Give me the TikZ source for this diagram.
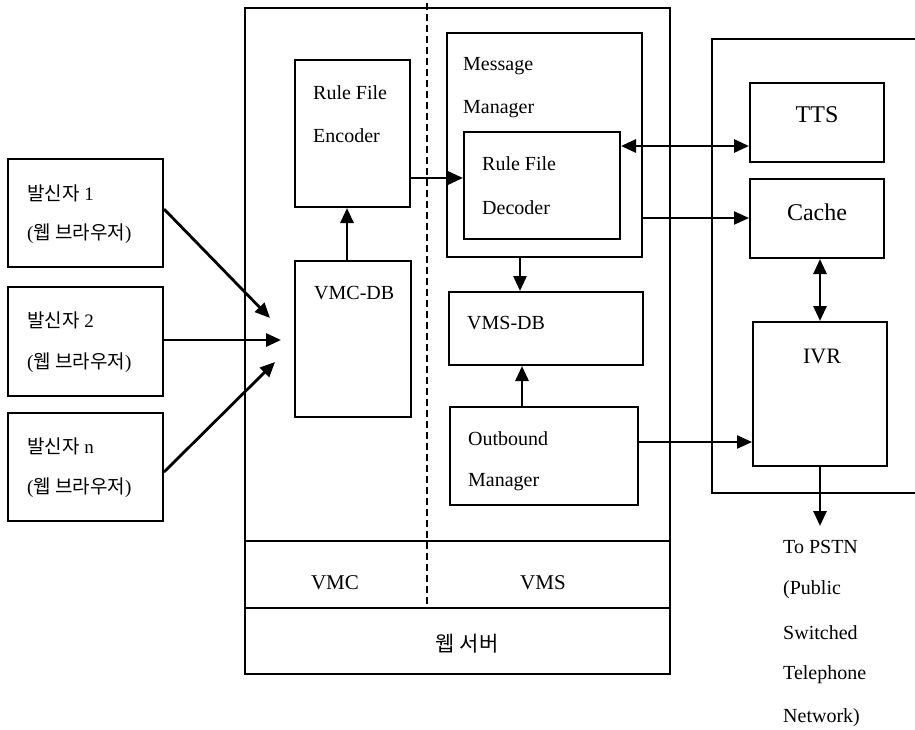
\documentclass[tikz,border=0pt]{standalone}
\usepackage{fontspec}
\setmainfont{Liberation Serif}
\newfontfamily\kr{Noto Sans CJK KR}
\usetikzlibrary{arrows.meta}
\begin{document}
\begin{tikzpicture}[x=1pt,y=-1pt,
  box/.style={draw, line width=2pt, rectangle, inner sep=0pt},
  lbl/.style={anchor=west, inner sep=0pt, font=\fontsize{20}{24}\selectfont},
  clbl/.style={inner sep=0pt, font=\fontsize{21}{25}\selectfont},
  krl/.style={anchor=west, inner sep=0pt, font=\fontsize{19}{23}\selectfont},
  arr/.style={line width=2.8pt, -{Triangle[length=15pt,width=13pt]}},
  darr/.style={line width=2.8pt, {Triangle[length=15pt,width=13pt]}-{Triangle[length=15pt,width=13pt]}},
  tarr/.style={line width=2.2pt, -{Triangle[length=15pt,width=13pt]}},
  sep/.style={line width=2pt},
  dsh/.style={line width=2pt, dash pattern=on 7pt off 4pt}
]
\useasboundingbox (0,0) rectangle (915,730);

% main server box
\node[box, minimum width=425pt, minimum height=666pt] (server) at (457.5,341) {};
\draw[sep] (245,541) -- (670,541);
\draw[sep] (245,608) -- (670,608);
\draw[dsh] (427,3) -- (427,608);

% right system box (open on the right)
\draw[sep] (915,39) -- (712,39) -- (712,493) -- (915,493);

% sender boxes
\node[box, minimum width=155pt, minimum height=108pt] (s1) at (85.5,213) {};
\node[box, minimum width=155pt, minimum height=109pt] (s2) at (85.5,341.5) {};
\node[box, minimum width=155pt, minimum height=108pt] (s3) at (85.5,467) {};
\node[krl] (s1a) at (27,193) {{\kr 발신자} 1};
\node[krl] (s1b) at (27,234) {({\kr 웹 브라우저})};
\node[krl] (s2a) at (27,320) {{\kr 발신자} 2};
\node[krl] (s2b) at (27,363) {({\kr 웹 브라우저})};
\node[krl] (s3a) at (27,446) {{\kr 발신자} n};
\node[krl] (s3b) at (27,488) {({\kr 웹 브라우저})};

% VMC side
\node[box, minimum width=115pt, minimum height=147pt] (enc) at (352.5,133.5) {};
\node[lbl] (enct1) at (313,93) {Rule File};
\node[lbl] (enct2) at (313,136) {Encoder};
\node[box, minimum width=116pt, minimum height=156pt] (vmcdb) at (353,339) {};
\node[lbl] (vmcdbt) at (314,293) {VMC-DB};

% VMS side
\node[box, minimum width=195pt, minimum height=224pt] (mm) at (544.5,145) {};
\node[lbl] (mmt1) at (463,66) {Message};
\node[lbl] (mmt2) at (463,109) {Manager};
\node[box, minimum width=156pt, minimum height=107pt] (dec) at (542,185.5) {};
\node[lbl] (dect1) at (482,164) {Rule File};
\node[lbl] (dect2) at (482,208) {Decoder};
\node[box, minimum width=194pt, minimum height=73pt] (vmsdb) at (546,328.5) {};
\node[lbl] (vmsdbt) at (467,323) {VMS-DB};
\node[box, minimum width=188pt, minimum height=98pt] (ob) at (544,456) {};
\node[lbl] (obt1) at (468,439) {Outbound};
\node[lbl] (obt2) at (468,482) {Manager};

% bottom rows
\node[clbl] (vmc) at (335,583) {VMC};
\node[clbl] (vms) at (543,583) {VMS};
\node[clbl] (web) at (467,644) {\kr 웹 서버};

% right side
\node[box, minimum width=134pt, minimum height=79pt] (tts) at (817,122.5) {};
\node[inner sep=0pt, font=\fontsize{24}{28}\selectfont] (ttst) at (817,115) {TTS};
\node[box, minimum width=134pt, minimum height=79pt] (cache) at (817,218.5) {};
\node[inner sep=0pt, font=\fontsize{24}{28}\selectfont] (cachet) at (817,212) {Cache};
\node[box, minimum width=134pt, minimum height=144pt] (ivr) at (820,394) {};
\node[inner sep=0pt, font=\fontsize{22}{26}\selectfont] (ivrt) at (822,356) {IVR};

% PSTN text
\node[lbl] (p1) at (783,547) {To PSTN};
\node[lbl] (p2) at (783,590) {(Public};
\node[lbl] (p3) at (783,633) {Switched};
\node[lbl] (p4) at (783,675) {Telephone};
\node[lbl] (p5) at (783,718) {Network)};

% arrow targets
\coordinate (t1) at (270,318);
\coordinate (t2) at (281,340);
\coordinate (t3) at (275,362);
\coordinate (pstn) at (820,526);

% connectors
\draw[arr] (s1.east |- 0,209) -- (t1);
\draw[arr] (s2.east |- 0,340) -- (t2);
\draw[arr] (s3.east |- 0,472) -- (t3);
\draw[arr] (vmcdb.north -| 347,0) -- (enc.south -| 347,0);
\draw[arr] (enc.east |- 0,178) -- (dec.west |- 0,178);
\draw[arr] (mm.south -| 520,0) -- (vmsdb.north -| 520,0);
\draw[arr] (ob.north -| 522,0) -- (vmsdb.south -| 522,0);
\draw[darr] (dec.east |- 0,146) -- (tts.west |- 0,146);
\draw[tarr] (mm.east |- 0,218) -- (cache.west |- 0,218);
\draw[darr] (cache.south -| 820,0) -- (ivr.north -| 820,0);
\draw[tarr] (ob.east |- 0,442) -- (ivr.west |- 0,442);
\draw[arr] (ivr.south -| 820,0) -- (pstn);
\end{tikzpicture}
\end{document}
